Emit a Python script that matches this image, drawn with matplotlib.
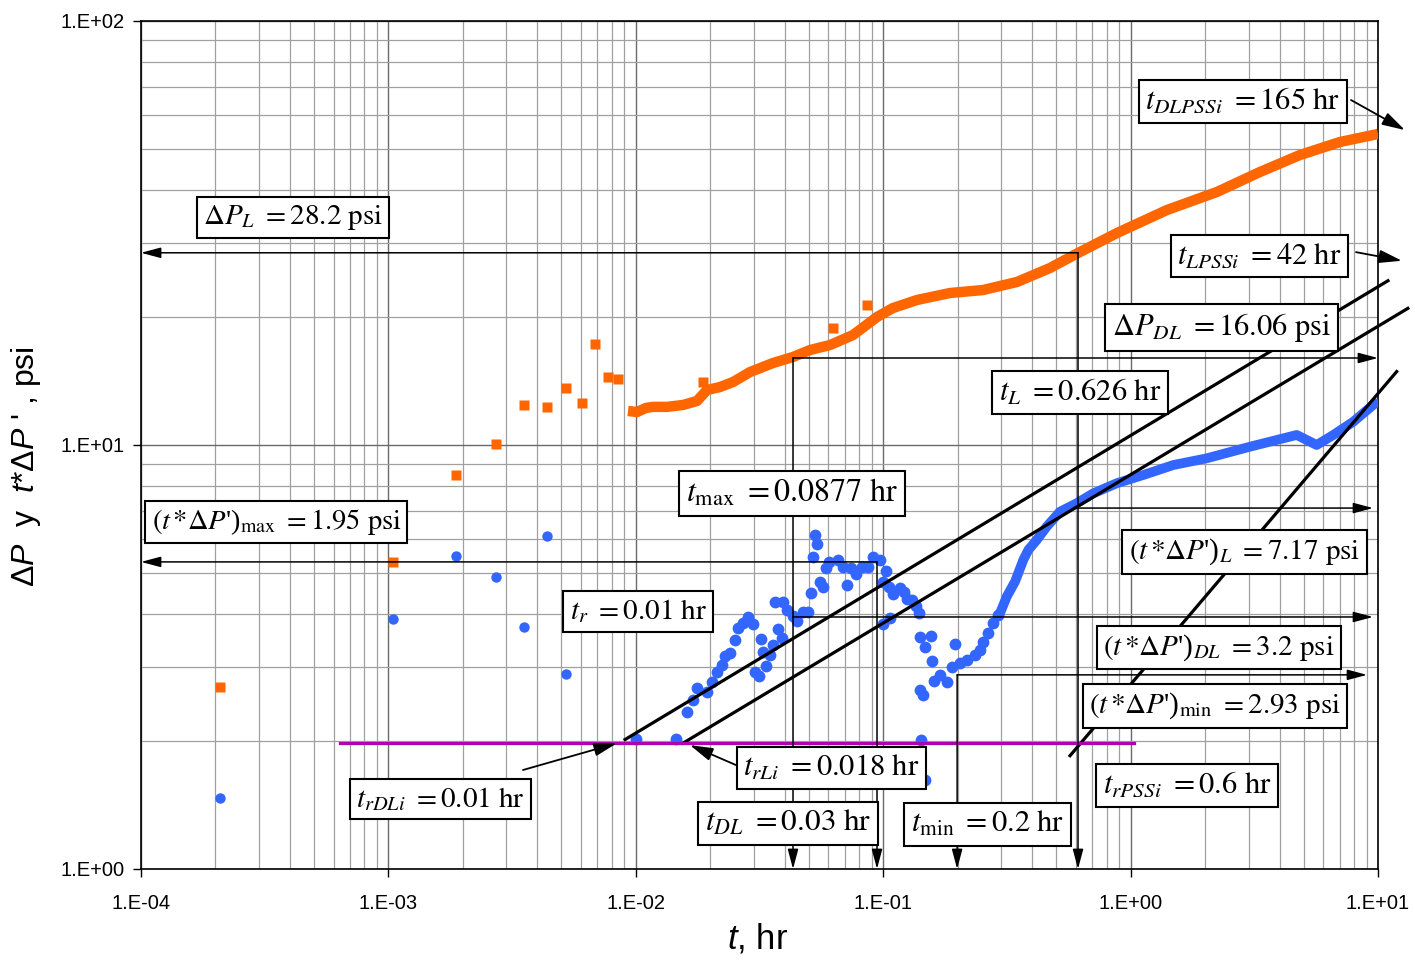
import numpy as np
import matplotlib
matplotlib.use("Agg")
import matplotlib.pyplot as plt
from matplotlib.ticker import LogLocator, FuncFormatter, NullFormatter

plt.rcParams["font.family"] = ["Liberation Sans", "DejaVu Sans"]
plt.rcParams["mathtext.fontset"] = "custom"
plt.rcParams["mathtext.rm"] = "Liberation Sans"
plt.rcParams["mathtext.it"] = "Liberation Sans:italic"

# ------------------------------------------------------------
# Data (t in hr, pressure in psi)
# ------------------------------------------------------------
# Delta P (orange squares) - early scattered points
t_dp_early = [2.086e-4, 1.047e-3, 1.871e-3, 2.729e-3, 3.532e-3, 4.376e-3,
              5.224e-3, 6.043e-3, 6.859e-3, 7.74e-3, 8.50e-3]
dp_early = [2.68, 5.29, 8.50, 10.05, 12.41, 12.31, 13.63, 12.54, 17.28, 14.44, 14.33]

# Delta P - dense part
t_dp = [0.00930, 0.01011, 0.01100, 0.01173, 0.01337, 0.01552, 0.01768, 0.01940,
        0.02189, 0.02472, 0.02894, 0.03585, 0.04319, 0.05060, 0.06095, 0.07551,
        0.09441, 0.1095, 0.1370, 0.1862, 0.2532, 0.3474, 0.4723, 0.6130, 0.8810,
        1.403, 2.235, 3.334, 4.838, 7.021, 10.0]
dp = [12.03, 11.96, 12.23, 12.30, 12.30, 12.43, 12.70, 13.48, 13.70, 14.08, 14.86,
      15.61, 16.13, 16.75, 17.21, 18.17, 20.04, 21.04, 21.98, 22.83, 23.20, 24.24,
      26.15, 28.37, 31.62, 35.83, 39.52, 44.05, 48.31, 51.84, 54.15]
t_dp_spike = [0.01874, 0.06285, 0.08578]
dp_spike = [14.10, 18.85, 21.38]

# Pressure derivative t*dP' (blue dots) - early points
t_der_early = [2.086e-4, 1.047e-3, 1.871e-3, 2.729e-3, 3.532e-3, 4.376e-3, 5.224e-3]
der_early = [1.47, 3.88, 5.48, 4.89, 3.73, 6.11, 2.89]

# derivative - noisy middle part
t_der = [0.01002, 0.01454, 0.01606, 0.01708, 0.01763, 0.01935, 0.02027, 0.02123,
         0.02224, 0.02294, 0.02403, 0.02517, 0.02596, 0.02720, 0.02849, 0.02969,
         0.03033, 0.03157, 0.03206, 0.03275, 0.03350, 0.03487, 0.03596, 0.03767,
         0.03888, 0.03653, 0.03924, 0.04097, 0.04308, 0.04496, 0.04727, 0.04981,
         0.05093, 0.05218, 0.05386, 0.05301, 0.05553, 0.05694, 0.05872, 0.06055,
         0.06585, 0.06861, 0.07121, 0.07391, 0.07765, 0.08187, 0.08706, 0.09120,
         0.09707, 0.1026, 0.1001, 0.1058, 0.1099, 0.1169, 0.1213, 0.1251, 0.1311,
         0.1353, 0.1395, 0.1001, 0.1065, 0.1408, 0.1556, 0.1476, 0.1580, 0.1951,
         0.1408, 0.1452, 0.1418, 0.1609, 0.1697, 0.1806, 0.1892, 0.2044, 0.2175,
         0.2350, 0.2462, 0.2539, 0.2659, 0.2786, 0.2918, 0.1476]
der = [2.022, 2.022, 2.350, 2.504, 2.668, 2.619, 2.765, 2.920, 3.028, 3.180, 3.237,
       3.468, 3.697, 3.799, 3.924, 3.784, 2.920, 2.852, 3.481, 3.254, 3.016, 3.197,
       3.376, 3.676, 3.500, 4.270, 4.270, 4.082, 3.952, 3.852, 4.045, 4.045, 4.469,
       5.452, 5.833, 6.136, 4.760, 4.617, 5.120, 5.307, 5.356, 5.164, 4.675, 5.120,
       4.964, 5.164, 5.164, 5.452, 5.356, 5.052, 4.760, 4.617, 4.452, 4.592, 4.508,
       4.325, 4.308, 4.171, 4.009, 3.784, 3.902, 3.531, 3.549, 3.333, 3.099, 3.394,
       2.643, 2.572, 2.015, 2.776, 2.868, 2.765, 3.000, 3.056, 3.111, 3.197, 3.285,
       3.436, 3.596, 3.799, 3.972, 1.621]

# derivative - smooth late part
t_der_late = [0.2965, 0.3156, 0.3410, 0.3683, 0.3859, 0.4173, 0.4579, 0.5183, 0.6054,
              0.7066, 0.8786, 1.126, 1.488, 2.031, 3.038, 4.692, 5.651, 6.597, 7.947, 9.726]
der_late = [4.009, 4.387, 4.760, 5.356, 5.654, 5.969, 6.418, 6.962, 7.288, 7.691,
            8.123, 8.497, 8.970, 9.303, 9.908, 10.56, 10.0, 10.56, 11.35, 12.54]

# straight lines drawn on the plot
diag_t = [[9.05e-3, 10.97], [1.55e-2, 13.2], [0.569, 11.9]]
diag_y = [[2.02, 24.4], [1.98, 21.0], [1.85, 14.9]]
radial_t = [6.4e-4, 1.03]
radial_y = [1.98, 1.98]

# reference arrows: horizontal (level, from t, to t) and vertical (t, from level)
h_level = [28.4, 16.04, 7.10, 5.30, 3.93, 2.87]
h_from = [0.613, 0.0432, 0.613, 0.0944, 0.0432, 0.199]
h_to = [1e-4, 10.0, 9.55, 1e-4, 9.55, 9.03]
v_t = [0.0432, 0.0944, 0.199, 0.613]
v_from = [16.04, 5.30, 2.87, 28.4]

# label boxes: text, font size, centre (axes fraction)
box_text = [
    r"$t_{DLPSSi}\ =165\ \mathrm{hr}$",
    r"$\Delta P_{L}\ =28.2\ \mathrm{psi}$",
    r"$t_{LPSSi}\ =42\ \mathrm{hr}$",
    r"$\Delta P_{DL}\ =16.06\ \mathrm{psi}$",
    r"$t_{L}\ =0.626\ \mathrm{hr}$",
    r"$t_{\mathrm{max}}\ =0.0877\ \mathrm{hr}$",
    r"$(t\,{*}\Delta P$')$_{\mathrm{max}}\ =1.95\ \mathrm{psi}$",
    r"$(t\,{*}\Delta P$')$_{L}\ =7.17\ \mathrm{psi}$",
    r"$t_{r}\ =0.01\ \mathrm{hr}$",
    r"$(t\,{*}\Delta P$')$_{DL}\ =3.2\ \mathrm{psi}$",
    r"$(t\,{*}\Delta P$')$_{\mathrm{min}}\ =2.93\ \mathrm{psi}$",
    r"$t_{rLi}\ =0.018\ \mathrm{hr}$",
    r"$t_{rPSSi}\ =0.6\ \mathrm{hr}$",
    r"$t_{rDLi}\ =0.01\ \mathrm{hr}$",
    r"$t_{DL}\ =0.03\ \mathrm{hr}$",
    r"$t_{\mathrm{min}}\ =0.2\ \mathrm{hr}$",
]
box_size = [22, 21, 22, 22, 22, 23, 20.5, 21, 21, 21, 21, 22, 22, 21, 22.5, 22]
box_x = [0.8909, 0.1229, 0.9042, 0.8735, 0.7591, 0.5263, 0.1095, 0.8921,
         0.4018, 0.8715, 0.8682, 0.5582, 0.8456, 0.2421, 0.5234, 0.6843]
box_y = [0.9051, 0.7683, 0.7229, 0.6386, 0.5619, 0.4428, 0.4092, 0.3738,
         0.3037, 0.2612, 0.1922, 0.1191, 0.0985, 0.0825, 0.0537, 0.0525]

# pointer arrows from boxes: (tail t, tail y) -> (head t, head y)
ptr_tail = [(7.78, 65.1), (8.15, 28.5), (3.50e-3, 1.712), (0.0271, 1.73)]
ptr_head = [(12.85, 55.3), (12.5, 27.2), (8.39e-3, 1.98), (0.01655, 1.96)]

orange = "#FF6600"
blue = "#3366FF"

fig = plt.figure(figsize=(14.15, 9.69), dpi=100)
ax = fig.add_axes([141 / 1415, 100 / 969, 1237 / 1415, 848 / 969])
ax.set_xscale("log")
ax.set_yscale("log")
ax.set_xlim(1e-4, 10)
ax.set_ylim(1, 100)

# grid like the Excel original
ax.xaxis.set_major_locator(LogLocator(base=10, numticks=10))
ax.yaxis.set_major_locator(LogLocator(base=10, numticks=10))
ax.xaxis.set_minor_locator(LogLocator(base=10, subs=np.arange(2, 10) * 1.0, numticks=100))
ax.yaxis.set_minor_locator(LogLocator(base=10, subs=np.arange(2, 10) * 1.0, numticks=100))
ax.xaxis.set_minor_formatter(NullFormatter())
ax.yaxis.set_minor_formatter(NullFormatter())
fmt = FuncFormatter(lambda v, p: "1.E%+03d" % int(round(np.log10(v))))
ax.xaxis.set_major_formatter(fmt)
ax.yaxis.set_major_formatter(fmt)
ax.grid(which="major", color="#6a6a6a", lw=1.0, zorder=0)
ax.grid(which="minor", color="#a0a0a0", lw=0.9, zorder=0)
ax.set_axisbelow(True)
ax.tick_params(which="major", direction="out", length=6, width=1, labelsize=14.5)
ax.tick_params(axis="x", which="major", pad=12)
ax.tick_params(axis="y", which="major", pad=6)
ax.tick_params(which="minor", length=0)
for s in ax.spines.values():
    s.set_linewidth(1.2)

# data
ax.plot(t_dp, dp, color=orange, lw=7.5, solid_capstyle="butt", zorder=3)
ax.plot(t_dp_early + t_dp_spike, dp_early + dp_spike, "s", color=orange, ms=7.5, mec="none", zorder=3)
ax.plot(t_der, der, "o", color=blue, ms=8.5, mec="none", zorder=3)
ax.plot(t_der_early, der_early, "o", color=blue, ms=7.5, mec="none", zorder=3)
ax.plot(t_der_late, der_late, color=blue, lw=7, solid_capstyle="round", zorder=3)

# straight lines
for tt, yy in zip(diag_t, diag_y):
    ax.plot(tt, yy, color="black", lw=2.3, clip_on=False, zorder=4)
ax.plot(radial_t, radial_y, color="#B000B0", lw=2.3, zorder=4)

arrow = dict(arrowstyle="-|>,head_length=1.2,head_width=0.32", color="black",
             lw=1.1, shrinkA=0, shrinkB=0, mutation_scale=10)
for lev, t0, t1 in zip(h_level, h_from, h_to):
    ax.annotate("", xy=(t1, lev), xytext=(t0, lev), arrowprops=arrow,
                annotation_clip=False, zorder=4)
for tv, y0 in zip(v_t, v_from):
    ax.annotate("", xy=(tv, 1.0), xytext=(tv, y0), arrowprops=arrow,
                annotation_clip=False, zorder=4)
ptr = dict(arrowstyle="-|>,head_length=1.4,head_width=0.4", color="black",
           lw=1.3, shrinkA=0, shrinkB=0, mutation_scale=10)
for tail, head in zip(ptr_tail, ptr_head):
    ax.annotate("", xy=head, xytext=tail, arrowprops=ptr,
                annotation_clip=False, zorder=4)

# boxed labels
for s, fs, bx, by in zip(box_text, box_size, box_x, box_y):
    ax.text(bx, by, s, transform=ax.transAxes, ha="center", va="center",
            fontsize=fs, family=["Liberation Serif"], math_fontfamily="stix",
            bbox=dict(boxstyle="square,pad=0.22", fc="white", ec="black", lw=1.5),
            zorder=6)

ax.set_xlabel(r"$t$, hr", fontsize=25)
ax.xaxis.set_label_coords(0.4985, -0.062)
ax.set_ylabel("\u0394$P$  y  $t$*\u0394$P$ ' , psi", fontsize=23)
ax.yaxis.set_label_coords(-0.079, 0.475)

fig.savefig("out.png", dpi=100)
